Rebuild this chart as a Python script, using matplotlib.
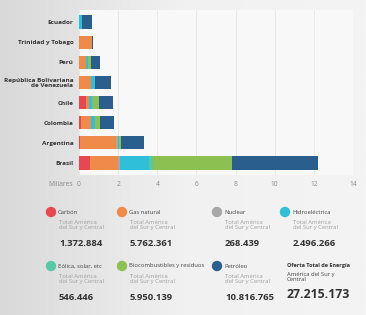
import matplotlib

matplotlib.use("Agg")
import matplotlib.pyplot as plt
import numpy as np

plt.rcParams["font.family"] = ["Open Sans", "DejaVu Sans"]

COUNTRIES = ["Ecuador", "Trinidad y Tobago", "Perú", "República Bolivariana\nde Venezuela",
             "Chile", "Colombia", "Argentina", "Brasil"]
SOURCES = ["Carbón", "Gas natural", "Nuclear", "Hidroeléctrica",
           "Eólica, solar, etc", "Biocombustibles y residuos", "Petróleo"]
COLORS = ["#e9474f", "#f08a48", "#a7a7a7", "#2fbfd8", "#55c9a6", "#8cc152", "#2a5e8c"]

carbon = [0.00, 0.00, 0.02, 0.00, 0.34, 0.10, 0.03, 0.55]
gas = [0.02, 0.68, 0.32, 0.63, 0.17, 0.53, 1.85, 1.45]
nuclear = [0.00, 0.00, 0.00, 0.00, 0.00, 0.00, 0.10, 0.10]
hydro = [0.14, 0.00, 0.12, 0.20, 0.15, 0.17, 0.05, 1.50]
wind_solar = [0.01, 0.00, 0.02, 0.00, 0.06, 0.03, 0.02, 0.20]
biofuel = [0.00, 0.00, 0.14, 0.00, 0.30, 0.23, 0.12, 4.00]
oil = [0.47, 0.05, 0.46, 0.78, 0.71, 0.73, 1.15, 4.40]
SERIES = [carbon, gas, nuclear, hydro, wind_solar, biofuel, oil]

XTICKS = [0, 2, 4, 6, 8, 10, 12, 14]
TOTALS = ["1.372.884", "5.762.361", "268.439", "2.496.266",
          "546.446", "5.950.139", "10.816.765"]
GRAND_TOTAL = "27.215.173"

fig = plt.figure(figsize=(3.66, 3.15), dpi=100)

# background: photo-like grey fade on the left
bg = fig.add_axes([0, 0, 1, 1], zorder=-10)
grad = np.linspace(0, 1, 256)[None, :]
bg.imshow(grad, extent=[0, 1, 0, 1], aspect="auto",
          cmap=matplotlib.colors.LinearSegmentedColormap.from_list("g", ["#d9d9d9", "#f1f1f1", "#f4f4f4"]))
bg.axis("off")

ax = fig.add_axes([79 / 366, 1 - 175 / 315, (353 - 79) / 366, (175 - 10) / 315])
ax.set_facecolor("#f8f8f8")
y = np.arange(len(COUNTRIES))
left = np.zeros(len(COUNTRIES))
for vals, col in zip(SERIES, COLORS):
    ax.barh(y, vals, left=left, height=0.66, color=col, zorder=3)
    left += np.array(vals)

ax.set_xlim(0, 14)
ax.set_ylim(7.6, -0.6)
ax.set_yticks(y)
ax.set_yticklabels(COUNTRIES, fontsize=4.6, fontweight="bold", color="#333333", linespacing=1.0)
ax.set_xticks(XTICKS)
ax.set_xticklabels([str(t) for t in XTICKS], fontsize=4.8, color="#888888")
ax.tick_params(length=0, pad=4)
ax.grid(axis="x", color="#e6e6e6", lw=0.6, zorder=0)
for s in ax.spines.values():
    s.set_visible(False)
fig.text(73 / 366, 1 - 185 / 315, "Millares", fontsize=4.8, color="#888888", ha="right", va="center")

# legend / totals block
cols_x = [51, 122, 217, 285]
rows_y = [212, 266]
for i, (name, col, tot) in enumerate(zip(SOURCES, COLORS, TOTALS)):
    cx = cols_x[i % 4]
    cy = rows_y[i // 4]
    fig.patches.append(matplotlib.patches.Ellipse((cx / 366, 1 - cy / 315), 9 / 366, 9 / 315,
                                                  transform=fig.transFigure, color=col))
    fig.text((cx + 7) / 366, 1 - cy / 315, name, fontsize=4.2, color="#444444", va="center")
    fig.text((cx + 8) / 366, 1 - (cy + 13) / 315, "Total América\ndel Sur y Central",
             fontsize=4.2, color="#a0a0a0", va="center", linespacing=1.0)
    fig.text((cx + 8) / 366, 1 - (cy + 31) / 315, tot, fontsize=6.8, fontweight="bold",
             color="#333333", va="center")

fig.text(287 / 366, 1 - 266 / 315, "Oferta Total de Energía", fontsize=4.0, fontweight="bold",
         color="#333333", va="center")
fig.text(287 / 366, 1 - 277 / 315, "América del Sur y\nCentral", fontsize=4.2, color="#444444",
         va="center", linespacing=1.1)
fig.text(287 / 366, 1 - 294 / 315, GRAND_TOTAL, fontsize=8.8, fontweight="bold",
         color="#333333", va="center")

fig.savefig("out.png", dpi=100)
